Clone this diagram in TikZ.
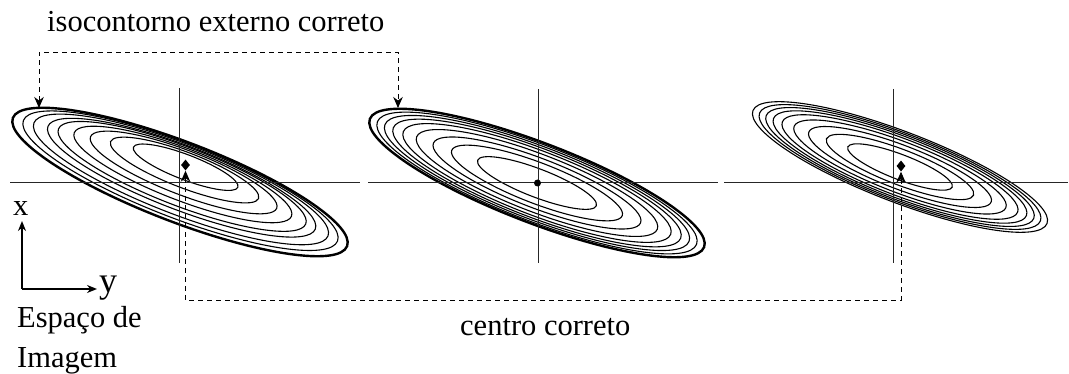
\documentclass[tikz,border=0pt]{standalone}
\usepackage{fontspec}
\setmainfont{Liberation Serif}
\usetikzlibrary{arrows.meta,shapes.geometric}
\begin{document}
\begin{tikzpicture}[x=1pt,y=-1pt,
  thinc/.style={line width=1.1pt},
  thickc/.style={line width=2.4pt},
  crossline/.style={line width=1pt, black!85},
  dashconn/.style={line width=0.9pt, dash pattern=on 5pt off 4pt,
     {Stealth[length=11pt,width=9.5pt]}-{Stealth[length=11pt,width=9.5pt]}},
  axisarrow/.style={line width=1.7pt, -{Stealth[length=10pt,width=8pt]}},
  lbl/.style={inner sep=0pt, font=\fontsize{30.5}{40}\selectfont},
  marker/.style={shape=diamond, fill=black, inner sep=0pt, minimum width=9pt, minimum height=11pt},
  cdot/.style={circle, fill=black, inner sep=0pt, minimum size=7pt}
]
\useasboundingbox (0,0) rectangle (1069,374);

% ---------- panel 1 (shifted inner contours) ----------
\draw[thickc, rotate around={-21:(180,182)}] (180,182) ellipse [x radius=179, y radius=40];
\foreach \s in {0.94,0.88,0.80,0.74,0.65,0.557,0.443,0.3125} {
  \pgfmathsetmacro{\cx}{180+8.2*(1-\s)}
  \pgfmathsetmacro{\cy}{182-21.5*(1-\s)}
  \pgfmathsetmacro{\ra}{179*\s}
  \pgfmathsetmacro{\rb}{40*\s}
  \draw[thinc, rotate around={-21:(\cx,\cy)}] (\cx,\cy) ellipse [x radius=\ra, y radius=\rb];
}
\draw[crossline] (179,88) -- (179,263);
\draw[crossline] (10,183) -- (360,183);

% ---------- panel 2 (concentric, centred on cross) ----------
\draw[thickc, rotate around={-21:(537,183)}] (537,183) ellipse [x radius=179, y radius=40];
\foreach \s in {0.955,0.91,0.86,0.80,0.72,0.62,0.51,0.355} {
  \pgfmathsetmacro{\ra}{179*\s}
  \pgfmathsetmacro{\rb}{40*\s}
  \draw[thinc, rotate around={-21:(537,183)}] (537,183) ellipse [x radius=\ra, y radius=\rb];
}
\draw[crossline] (538,89) -- (538,263);
\draw[crossline] (368,183) -- (718,183);
\node[cdot] (c2) at (537.5,183) {};

% ---------- panel 3 (concentric, centred on true centre) ----------
\foreach \s in {1,0.955,0.91,0.86,0.80,0.72,0.62,0.50,0.355} {
  \pgfmathsetmacro{\ra}{157.5*\s}
  \pgfmathsetmacro{\rb}{35.2*\s}
  \draw[thinc, rotate around={-21:(900,167)}] (900,167) ellipse [x radius=\ra, y radius=\rb];
}
\draw[crossline] (893,89) -- (893,263);
\draw[crossline] (724,183) -- (1068,183);

% ---------- centre markers ----------
\node[marker] (d1) at (185.5,165) {};
\node[marker] (d3) at (901,166) {};

% ---------- connectors ----------
\coordinate (t1) at (39,108);
\coordinate (t2) at (398,108);
\coordinate (u1) at (39,52);
\coordinate (u2) at (398,52);
\draw[dashconn] (t1) -- (u1) -- (u2) -- (t2);

\coordinate (b1) at (185.5,300);
\coordinate (b3) at (901,300);
\draw[dashconn] (d1.south) -- (b1) -- (b3) -- (d3.south);

% ---------- image-space axes ----------
\coordinate (o) at (22,289);
\coordinate (ax) at (22,221);
\coordinate (ay) at (97,289);
\draw[axisarrow] (o) -- (ax);
\draw[axisarrow] (o) -- (ay);
\node[inner sep=0pt, anchor=base west, font=\fontsize{30.5}{34}\selectfont] (lx) at (13,216) {x};
\node[inner sep=0pt, anchor=base west, font=\fontsize{36}{40}\selectfont] (ly) at (99,293) {y};

% ---------- labels ----------
\node[lbl, anchor=base west] (tiso) at (47,32) {isocontorno externo correto};
\node[lbl, anchor=base west] (tcen) at (460,335) {centro correto};
\node[lbl, anchor=base west] (tesp) at (17,327) {Espaço de};
\node[lbl, anchor=base west] (timg) at (17,367) {Imagem};
\end{tikzpicture}
\end{document}
